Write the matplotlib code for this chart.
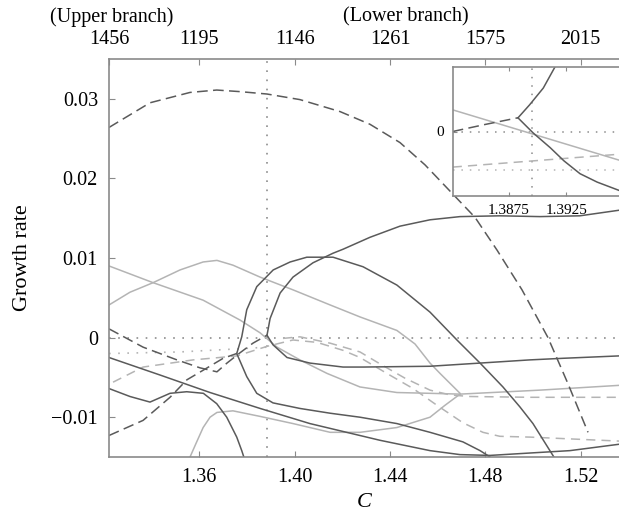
import matplotlib
matplotlib.use("Agg")
import matplotlib.pyplot as plt

plt.rcParams['font.family'] = ['Liberation Serif', 'DejaVu Serif']

# ---- data (C, growth rate) ----
c_crit = 1.3885

# dark dashed arc (top)
arc_c = [1.3221, 1.3393, 1.3561, 1.3673, 1.3771, 1.3884, 1.4022, 1.4190, 1.4316, 1.4442,
         1.4547, 1.4652, 1.4757, 1.4849, 1.4954, 1.5063, 1.5147, 1.5231]
arc_g = [0.0264, 0.0295, 0.0308, 0.0311, 0.0309, 0.0306, 0.0299, 0.0284, 0.0268, 0.0245,
         0.0217, 0.0184, 0.0151, 0.0110, 0.0060, 0.0000, -0.0058, -0.0119]

# dark dashed branches coming from the left
d1_c = [1.3221, 1.3364, 1.3477, 1.3548, 1.3616, 1.3700, 1.3757]
d1_g = [-0.0123, -0.0104, -0.0075, -0.0053, -0.0041, -0.0026, -0.0020]
d2_c = [1.3221, 1.3364, 1.3506, 1.3603, 1.3674, 1.3716, 1.3771, 1.3825, 1.3884]
d2_g = [0.0011, -0.0012, -0.0028, -0.0038, -0.0043, -0.0032, -0.0019, -0.0007, 0.0003]

# dark solid branches
b1_c = [1.3757, 1.3778, 1.3799, 1.3841, 1.3910, 1.3981, 1.4051, 1.4161, 1.4287, 1.4429,
        1.4568, 1.4681, 1.4778, 1.4874, 1.4945, 1.5000, 1.5071, 1.5092]
b1_g = [-0.0020, 0.0001, 0.0035, 0.0064, 0.0085, 0.0095, 0.0101, 0.0101, 0.0089, 0.0066,
        0.0032, -0.0003, -0.0032, -0.0062, -0.0087, -0.0108, -0.0142, -0.0152]
b2_c = [1.3757, 1.3799, 1.3841, 1.3909, 1.4022, 1.4149, 1.4274, 1.4429, 1.4568, 1.4706,
        1.4778, 1.4841]
b2_g = [-0.0020, -0.0049, -0.0070, -0.0082, -0.0089, -0.0095, -0.0100, -0.0108, -0.0119,
        -0.0131, -0.0142, -0.0154]
b3_c = [1.3884, 1.3897, 1.3939, 1.3993, 1.4077, 1.4161, 1.4203, 1.4316, 1.4442, 1.4568,
        1.4694, 1.4861, 1.5029, 1.5197, 1.5361]
b3_g = [0.0003, 0.0024, 0.0056, 0.0076, 0.0094, 0.0106, 0.0111, 0.0126, 0.0140, 0.0148,
        0.0152, 0.0153, 0.0152, 0.0153, 0.0160]
b4_c = [1.3884, 1.3909, 1.3968, 1.4064, 1.4203, 1.4287, 1.4568, 1.4778, 1.4987, 1.5126, 1.5361]
b4_g = [0.0003, -0.0009, -0.0025, -0.0032, -0.0037, -0.0037, -0.0036, -0.0032, -0.0028,
        -0.0026, -0.0023]
b5_c = [1.3221, 1.3435, 1.3645, 1.3855, 1.4064, 1.4274, 1.4358, 1.4568, 1.4694, 1.4820,
        1.4987, 1.5155, 1.5361]
b5_g = [-0.0025, -0.0047, -0.0069, -0.0089, -0.0108, -0.0123, -0.0129, -0.0142, -0.0147,
        -0.0148, -0.0145, -0.0142, -0.0134]
b7_c = [1.3221, 1.3309, 1.3393, 1.3477, 1.3547, 1.3617, 1.3673, 1.3715, 1.3757, 1.3778, 1.3790]
b7_g = [-0.0064, -0.0074, -0.0081, -0.0070, -0.0068, -0.0070, -0.0083, -0.0100, -0.0125,
        -0.0142, -0.0153]

# light solid branches
l1_c = [1.3221, 1.3406, 1.3616, 1.3771, 1.3855, 1.3926, 1.4022, 1.4136, 1.4274, 1.4429,
        1.4568, 1.4694, 1.5029, 1.5361]
l1_g = [0.0090, 0.0069, 0.0047, 0.0022, 0.0006, -0.0012, -0.0028, -0.0045, -0.0062,
        -0.0069, -0.0070, -0.0071, -0.0066, -0.0060]
l2_c = [1.3221, 1.3309, 1.3406, 1.3519, 1.3616, 1.3674, 1.3741, 1.3855, 1.3993, 1.4149,
        1.4274, 1.4429, 1.4505, 1.4568, 1.4610, 1.4694]
l2_g = [0.0041, 0.0057, 0.0069, 0.0085, 0.0095, 0.0097, 0.0091, 0.0076, 0.0060, 0.0041,
        0.0026, 0.0009, -0.0008, -0.0032, -0.0045, -0.0070]
l4_c = [1.3561, 1.3586, 1.3616, 1.3645, 1.3674, 1.3741, 1.3855, 1.3993, 1.4149, 1.4274,
        1.4429, 1.4568, 1.4631, 1.4694]
l4_g = [-0.0150, -0.0133, -0.0113, -0.0100, -0.0094, -0.0092, -0.0099, -0.0108, -0.0119,
        -0.0119, -0.0113, -0.0100, -0.0085, -0.0071]

# light dashed / dotted branches
ld1_c = [1.3238, 1.3364, 1.3574, 1.3758, 1.3884, 1.3993, 1.4094, 1.4203, 1.4274, 1.4387,
         1.4497, 1.4597, 1.4706, 1.4790, 1.4861, 1.4987, 1.5361]
ld1_g = [-0.0056, -0.0037, -0.0028, -0.0023, -0.0011, -0.0003, -0.0006, -0.0016, -0.0025,
         -0.0045, -0.0064, -0.0085, -0.0107, -0.0119, -0.0124, -0.0125, -0.0130]
ld2_c = [1.3951, 1.4022, 1.4149, 1.4274, 1.4358, 1.4463, 1.4568, 1.4652, 1.4736, 1.4987, 1.5361]
ld2_g = [-0.0001, 0.0001, -0.0007, -0.0018, -0.0033, -0.0051, -0.0066, -0.0072, -0.0074,
         -0.0075, -0.0075]
lp_c = [1.3221, 1.3519, 1.3771, 1.3884]
lp_g = [-0.0020, -0.0018, -0.0014, -0.0012]

# inset (zoom around the crossing)
in_crit = 1.3895
in_dash_c = [1.3826, 1.3854, 1.3883]
in_dash_g = [0.0, 0.00038, 0.00075]
in_up_c = [1.3883, 1.3893, 1.3905, 1.3915, 1.3920]
in_up_g = [0.00075, 0.00145, 0.00237, 0.0035, 0.0039]
in_down_c = [1.3883, 1.3896, 1.3911, 1.3923, 1.3937, 1.3952, 1.3971]
in_down_g = [0.00074, -0.00007, -0.00088, -0.0016, -0.0023, -0.00276, -0.00321]
in_light_c = [1.3826, 1.3971]
in_light_g = [0.00118, -0.00156]
in_ldash_c = [1.3826, 1.3971]
in_ldash_g = [-0.00194, -0.00124]
in_dot_c = [1.3826, 1.3971]
in_dot_g = [-0.0021, -0.0021]

# tick labels
bottom_ticks = [1.36, 1.40, 1.44, 1.48, 1.52]
top_ticks = [1.3221, 1.36, 1.40, 1.44, 1.48, 1.52]
top_labels = ['1456', '1195', '1146', '1261', '1575', '2015']
y_ticks = [-0.01, 0, 0.01, 0.02, 0.03]
y_labels = ['\u22120.01', '0', '0.01', '0.02', '0.03']

dark = '#5a5a5a'
light = '#b4b4b4'
dotc = '#8c8c8c'
spc = '#8a8a8a'
lw = 1.1
dash = (0, (7, 3.5))
ldash = (0, (6, 4))
dots = (0, (1, 4.5))

fig = plt.figure(figsize=(6.19, 5.21), dpi=100)
W, H = 619.0, 521.0
ax = fig.add_axes([109 / W, (H - 457) / H, 1 - 109 / W, (457 - 59) / H])
ax.set_xlim(1.3221, 1.5361)
ax.set_ylim(-0.015, 0.035)

ax.axhline(0, color=dotc, lw=1.2, ls=dots)
ax.axvline(c_crit, color=dotc, lw=1.2, ls=dots)

ax.plot(lp_c, lp_g, color=light, lw=1.2, ls=dots)
ax.plot(l1_c, l1_g, color=light, lw=lw)
ax.plot(l2_c, l2_g, color=light, lw=lw)
ax.plot(l4_c, l4_g, color=light, lw=lw)
ax.plot(ld1_c, ld1_g, color=light, lw=lw, ls=ldash)
ax.plot(ld2_c, ld2_g, color=light, lw=lw, ls=ldash)

ax.plot(arc_c, arc_g, color=dark, lw=lw, ls=dash)
ax.plot(d1_c, d1_g, color=dark, lw=lw, ls=dash)
ax.plot(d2_c, d2_g, color=dark, lw=lw, ls=dash)
for cc, gg in [(b1_c, b1_g), (b2_c, b2_g), (b3_c, b3_g), (b4_c, b4_g),
               (b5_c, b5_g), (b7_c, b7_g)]:
    ax.plot(cc, gg, color=dark, lw=lw)

for s in ['left', 'bottom', 'top']:
    ax.spines[s].set_color(spc)
    ax.spines[s].set_linewidth(1.2)
ax.spines['right'].set_visible(False)
ax.tick_params(direction='in', length=4, color=spc, labelsize=14.5, pad=8)
ax.set_xticks(bottom_ticks)
ax.set_xticklabels(['%.2f' % t for t in bottom_ticks])
ax.set_yticks(y_ticks)
ax.set_yticklabels(y_labels)
ax.set_xlabel('C', fontsize=16, style='italic')
ax.xaxis.set_label_coords(0.5, -0.09)
ax.set_ylabel('Growth rate', fontsize=16)
ax.yaxis.set_label_coords(-0.15, 0.5)

top = ax.twiny()
top.set_xlim(ax.get_xlim())
top.set_xticks(top_ticks)
top.set_xticklabels(top_labels)
top.tick_params(direction='in', length=4, color=spc, labelsize=14.5, pad=7)
for s in top.spines.values():
    s.set_visible(False)

fig.text(112 / W, 1 - 17 / H, '(Upper branch)', ha='center', va='center', fontsize=14.5)
fig.text(406 / W, 1 - 17 / H, '(Lower branch)', ha='center', va='center', fontsize=14.5)

# inset
axin = fig.add_axes([452.7 / W, (H - 195.7) / H, 1 - 452.7 / W, (195.7 - 67.3) / H])
axin.set_facecolor('white')
axin.set_xlim(1.3826, 1.3971)
axin.set_ylim(-0.0035, 0.0035)
axin.axhline(0, color=dotc, lw=1.1, ls=dots)
axin.axvline(in_crit, color=dotc, lw=1.1, ls=dots)
axin.plot(in_dot_c, in_dot_g, color=light, lw=1.1, ls=dots)
axin.plot(in_light_c, in_light_g, color=light, lw=lw)
axin.plot(in_ldash_c, in_ldash_g, color=light, lw=lw, ls=ldash)
axin.plot(in_dash_c, in_dash_g, color=dark, lw=lw, ls=dash)
axin.plot(in_up_c, in_up_g, color=dark, lw=lw)
axin.plot(in_down_c, in_down_g, color=dark, lw=lw)
for s in ['left', 'bottom', 'top']:
    axin.spines[s].set_color(spc)
    axin.spines[s].set_linewidth(1.2)
axin.spines['right'].set_visible(False)
axin.set_xticks([1.3875, 1.3925])
axin.set_xticklabels(['1.3875', '1.3925'])
axin.set_yticks([0])
axin.set_yticklabels(['0'])
axin.tick_params(direction='in', length=3, color=spc, labelsize=11, pad=6, top=True)

fig.savefig('out.png', dpi=100)
